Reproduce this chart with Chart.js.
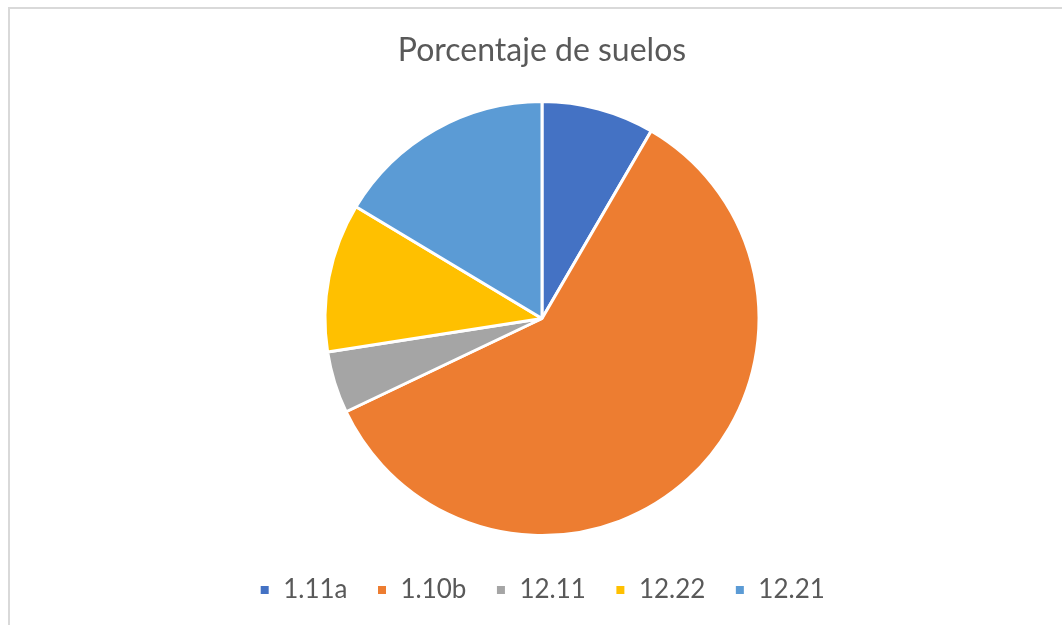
<!DOCTYPE html>
<html>
<head>
<meta charset="utf-8">
<script src="https://cdn.jsdelivr.net/npm/chart.js@4/dist/chart.umd.min.js"></script>
<style>
  html, body { margin: 0; padding: 0; background: #fff; }
  #wrap { position: relative; width: 1062px; height: 625px; overflow: hidden; }
  #frame { position: absolute; left: 8px; top: 7px; right: -5px; bottom: -5px; border: 2px solid #d9d9d9; }
  canvas { position: absolute; left: 0; top: 0; }
</style>
</head>
<body>
<div id="wrap">
  <div id="frame"></div>
  <canvas id="chart1" width="1062" height="625"></canvas>
</div>
<script>
var labels = ['1.11a', '1.10b', '12.11', '12.22', '12.21'];
var values = [8.4, 59.6, 4.6, 11.1, 16.4];
var colors = ['#4472c4', '#ed7d31', '#a5a5a5', '#ffc000', '#5b9bd5'];

var ctx1 = document.getElementById('chart1').getContext('2d');

var chart1 = new Chart(ctx1, {
    type: 'pie',
    data: {
        labels: labels,
        datasets: [{
            data: values,
            backgroundColor: colors,
            borderColor: '#ffffff',
            borderWidth: 3,
            radius: 217
        }]
    },
    options: {
        responsive: false,
        animation: false,
        layout: {
            padding: { left: 22, right: 0, top: 0, bottom: 12 }
        },
        plugins: {
            title: {
                display: true,
                text: 'Porcentaje de suelos',
                color: '#595959',
                font: { family: 'Lato', size: 32, weight: 'normal' },
                padding: { top: 31, bottom: 19.6 }
            },
            legend: {
                position: 'bottom',
                labels: {
                    color: '#595959',
                    font: { family: 'Lato', size: 26 },
                    boxWidth: 11,
                    boxHeight: 11,
                    padding: 29
                }
            },
            tooltip: { enabled: false }
        }
    }
});
</script>
</body>
</html>
